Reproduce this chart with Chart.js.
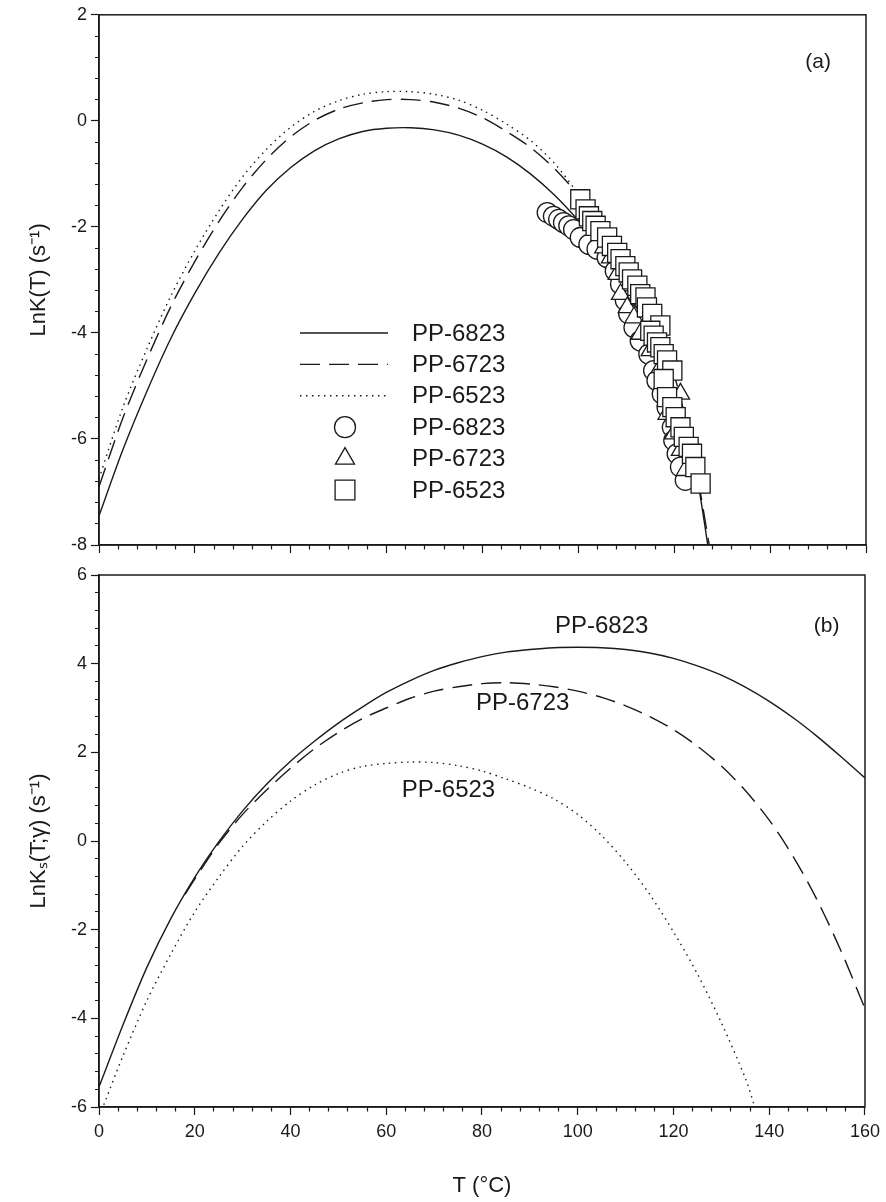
<!DOCTYPE html>
<html>
<head>
<meta charset="utf-8">
<script src="https://cdn.jsdelivr.net/npm/chart.js@4.4.0/dist/chart.umd.min.js"></script>
<style>
  html, body { margin: 0; padding: 0; background: #fff; }
  #wrap { position: relative; width: 886px; height: 1202px; }
  #chartA { position: absolute; left: 0; top: 0; }
  #chartB { position: absolute; left: 0; top: 560px; }
</style>
</head>
<body>
<div id="wrap">
  <canvas id="chartA" width="886" height="560"></canvas>
  <canvas id="chartB" width="886" height="642"></canvas>
</div>
<script>
// ---- data ----
const names = ['PP-6823', 'PP-6723', 'PP-6523'];

// (a) model curves, LnK(T)
const fitA6823T = [0, 5, 10, 15, 20, 25, 30, 35, 40, 45, 50, 55, 60, 65, 70, 75, 80, 85, 90, 95, 100, 105, 110, 115, 120, 123, 125, 127];
const fitA6823 = [-7.45, -6.2, -5.1, -4.1, -3.25, -2.5, -1.85, -1.3, -0.88, -0.56, -0.34, -0.2, -0.14, -0.13, -0.17, -0.27, -0.44, -0.68, -1.0, -1.4, -1.88, -2.42, -3.08, -3.92, -5.05, -6.0, -6.85, -8.0];
const fitA6723T = [0, 5, 10, 15, 20, 25, 30, 35, 40, 45, 50, 55, 60, 65, 70, 75, 80, 85, 90, 95, 100, 105, 110, 115, 120, 124, 127.3];
const fitA6723 = [-6.9, -5.6, -4.5, -3.5, -2.65, -1.9, -1.25, -0.72, -0.3, 0.01, 0.22, 0.34, 0.4, 0.4, 0.35, 0.24, 0.06, -0.2, -0.5, -0.9, -1.4, -2.0, -2.72, -3.6, -4.8, -6.3, -8.0];
const fitA6523T = [0, 5, 10, 15, 20, 25, 30, 35, 40, 45, 50, 55, 60, 65, 70, 75, 80, 85, 90, 95, 100, 102];
const fitA6523 = [-6.75, -5.4, -4.3, -3.3, -2.45, -1.7, -1.05, -0.53, -0.12, 0.18, 0.38, 0.5, 0.55, 0.55, 0.5, 0.39, 0.2, -0.06, -0.37, -0.8, -1.38, -1.65];

// (a) measured points
const obs6823T = [93.5, 94.8, 95.9, 96.9, 98.0, 99.0, 100.4, 102.2, 103.9, 106.0, 107.7, 108.8, 109.8, 110.5, 111.6, 112.9, 114.7, 115.7, 116.4, 117.5, 118.5, 119.6, 119.9, 120.6, 121.3, 122.3];
const obs6823 = [-1.73, -1.80, -1.86, -1.92, -1.98, -2.05, -2.20, -2.33, -2.42, -2.58, -2.83, -3.08, -3.39, -3.64, -3.90, -4.15, -4.40, -4.71, -4.90, -5.15, -5.40, -5.78, -6.03, -6.28, -6.53, -6.78];
const obs6723T = [105.3, 106.7, 108.1, 108.8, 110.2, 111.6, 112.9, 115.0, 117.1, 121.3, 118.5, 119.9, 121.3, 122.3];
const obs6723 = [-2.39, -2.58, -2.89, -3.27, -3.52, -3.71, -4.02, -4.33, -4.65, -5.15, -5.53, -5.90, -6.21, -6.59];
const obs6523T = [100.4, 101.5, 102.2, 102.9, 103.6, 104.6, 106.0, 107.0, 108.1, 108.8, 109.8, 110.5, 111.2, 112.3, 112.9, 114.0, 114.3, 115.4, 117.1, 115.0, 115.7, 116.4, 117.1, 117.8, 118.5, 119.6, 117.8, 118.5, 119.6, 120.3, 121.3, 122.0, 123.0, 123.7, 124.4, 125.5];
const obs6523 = [-1.48, -1.67, -1.80, -1.89, -1.98, -2.08, -2.20, -2.36, -2.49, -2.61, -2.74, -2.86, -2.99, -3.11, -3.27, -3.33, -3.52, -3.64, -3.86, -3.96, -4.05, -4.18, -4.27, -4.40, -4.52, -4.71, -4.87, -5.21, -5.40, -5.59, -5.78, -5.96, -6.15, -6.28, -6.53, -6.84];

// (b) LnKs(T;gamma)
const fitB6823T = [0, 5, 10, 15, 20, 25, 30, 35, 40, 45, 50, 55, 60, 65, 70, 75, 80, 85, 90, 95, 100, 105, 110, 115, 120, 125, 130, 135, 140, 145, 150, 155, 160];
const fitB6823 = [-5.55, -4.15, -2.85, -1.75, -0.82, -0.02, 0.68, 1.28, 1.8, 2.25, 2.66, 3.02, 3.35, 3.62, 3.85, 4.02, 4.16, 4.26, 4.32, 4.36, 4.37, 4.36, 4.32, 4.24, 4.12, 3.95, 3.74, 3.47, 3.15, 2.78, 2.36, 1.9, 1.42];
const fitB6723T = [18, 20, 25, 30, 35, 40, 45, 50, 55, 60, 65, 70, 75, 80, 85, 90, 95, 100, 105, 110, 115, 120, 125, 130, 135, 140, 145, 150, 155, 160];
const fitB6723 = [-1.2, -0.86, -0.06, 0.6, 1.15, 1.64, 2.08, 2.45, 2.76, 3.0, 3.22, 3.38, 3.48, 3.55, 3.57, 3.54, 3.48, 3.38, 3.24, 3.05, 2.81, 2.51, 2.14, 1.69, 1.14, 0.47, -0.35, -1.33, -2.48, -3.78];
const fitB6523T = [1, 5, 10, 15, 20, 25, 30, 35, 40, 45, 50, 55, 60, 65, 70, 75, 80, 85, 90, 95, 100, 105, 110, 115, 120, 125, 130, 135, 137];
const fitB6523 = [-5.95, -4.85, -3.6, -2.55, -1.6, -0.82, -0.12, 0.44, 0.9, 1.26, 1.52, 1.68, 1.75, 1.78, 1.77, 1.7, 1.58, 1.4, 1.2, 0.95, 0.6, 0.12, -0.48, -1.2, -2.05, -3.0, -4.1, -5.35, -6.0];

// tick labels
const xLabels = [0, 20, 40, 60, 80, 100, 120, 140, 160];
const yLabelsA = [-8, -6, -4, -2, 0, 2];
const yLabelsB = [-6, -4, -2, 0, 2, 4, 6];

// ---- helpers ----
const INK = '#1a1a1a';
const FONT = "'Liberation Sans', Arial, sans-serif";
const dashes = [[], [20, 9], [1.5, 4.5]];
const marks = ['circle', 'triangle', 'rect'];
const markSize = [10, 10.5, 13.5];

function pairs(xs, ys) {
  return xs.map((x, i) => ({x: x, y: ys[i]}));
}

function curve(label, xs, ys, k, order) {
  return {
    label: label, data: pairs(xs, ys), showLine: true,
    borderColor: INK, borderWidth: 1.4, borderDash: dashes[k],
    pointRadius: 0, tension: 0.3, order: order
  };
}

function dots(label, xs, ys, k, order) {
  return {
    label: label, data: pairs(xs, ys), showLine: false,
    pointStyle: marks[k], pointRadius: markSize[k],
    pointBackgroundColor: '#fff', pointBorderColor: INK, pointBorderWidth: 1.3,
    order: order
  };
}

function xAxis(withLabels) {
  return {
    type: 'linear', min: 0, max: 160,
    afterFit: s => { s.height = withLabels ? 95 : 15; },
    border: {display: true, color: INK, width: 1.5},
    grid: {
      drawOnChartArea: false, tickLength: 8, tickColor: INK, tickWidth: 1.2,
      tickBorderDash: c => (c.tick && xLabels.includes(c.tick.value)) ? [] : [4, 50]
    },
    ticks: {
      display: withLabels, stepSize: 4, autoSkip: false, maxRotation: 0, padding: 6,
      color: INK, font: {family: FONT, size: 18},
      callback: v => xLabels.includes(v) ? String(v) : ''
    },
    title: {
      display: withLabels, text: 'T (\u00B0C)', color: INK,
      font: {family: FONT, size: 22}, padding: {top: 0, bottom: 3}
    }
  };
}

function yAxis(min, max, labels, title) {
  return {
    type: 'linear', min: min, max: max,
    afterFit: s => { s.width = 99; },
    border: {display: true, color: INK, width: 1.5},
    grid: {
      drawOnChartArea: false, tickLength: 8, tickColor: INK, tickWidth: 1.2,
      tickBorderDash: c => (c.tick && labels.includes(c.tick.value)) ? [] : [0, 4, 4, 50]
    },
    ticks: {
      stepSize: 0.4, autoSkip: false, padding: 4, color: INK,
      font: {family: FONT, size: 18},
      callback: v => labels.includes(v) ? String(v) : ''
    },
    title: {
      display: true, text: title, color: INK,
      font: {family: FONT, size: 22}, padding: {top: 26, bottom: 0}
    }
  };
}

const framePlugin = {
  id: 'frame',
  afterDraw(chart) {
    const a = chart.chartArea, ctx = chart.ctx;
    ctx.save();
    ctx.strokeStyle = INK;
    ctx.lineWidth = 1.5;
    ctx.strokeRect(a.left, a.top, a.right - a.left, a.bottom - a.top);
    ctx.restore();
  }
};

// text placed at data coordinates
function textPlugin(items) {
  return {
    id: 'notes',
    afterDatasetsDraw(chart) {
      const ctx = chart.ctx, sx = chart.scales.x, sy = chart.scales.y;
      ctx.save();
      ctx.fillStyle = INK;
      ctx.textAlign = 'center';
      ctx.textBaseline = 'middle';
      items.forEach(it => {
        ctx.font = it.size + 'px ' + FONT;
        ctx.fillText(it.text, sx.getPixelForValue(it.x), sy.getPixelForValue(it.y));
      });
      ctx.restore();
    }
  };
}

// in-plot legend of panel (a)
const legendPlugin = {
  id: 'boxLegend',
  afterDraw(chart) {
    const ctx = chart.ctx;
    const rows = chart.data.datasets.slice().sort((p, q) => p.legendRow - q.legendRow);
    const top = 333, gap = 31.4, x0 = 300, x1 = 388, xm = 345, xt = 412;
    ctx.save();
    rows.forEach((ds, i) => {
      const y = top + i * gap;
      ctx.strokeStyle = INK;
      ctx.fillStyle = '#fff';
      if (ds.showLine) {
        ctx.lineWidth = ds.borderWidth;
        ctx.setLineDash(ds.borderDash);
        ctx.beginPath();
        ctx.moveTo(x0, y);
        ctx.lineTo(x1, y);
        ctx.stroke();
        ctx.setLineDash([]);
      } else {
        ctx.lineWidth = ds.pointBorderWidth;
        Chart.helpers.drawPoint(ctx, {
          pointStyle: ds.pointStyle, radius: ds.pointRadius + 0.5, rotation: 0,
          borderWidth: ds.pointBorderWidth
        }, xm, y);
      }
      ctx.fillStyle = INK;
      ctx.font = '24px ' + FONT;
      ctx.textAlign = 'left';
      ctx.textBaseline = 'middle';
      ctx.fillText(ds.label, xt, y + 1);
    });
    ctx.restore();
  }
};

Chart.defaults.font.family = FONT;
Chart.defaults.color = INK;

// ---- panel (a) ----
const dsA = [
  dots(names[2], obs6523T, obs6523, 2, 0),
  dots(names[1], obs6723T, obs6723, 1, 1),
  dots(names[0], obs6823T, obs6823, 0, 2),
  curve(names[0], fitA6823T, fitA6823, 0, 3),
  curve(names[1], fitA6723T, fitA6723, 1, 4),
  curve(names[2], fitA6523T, fitA6523, 2, 5)
];
[5, 4, 3, 0, 1, 2].forEach((r, i) => { dsA[i].legendRow = r; });

new Chart(document.getElementById('chartA'), {
  type: 'scatter',
  data: {datasets: dsA},
  options: {
    responsive: false, animation: false,
    layout: {padding: {top: 13, right: 20, left: 0, bottom: 0}},
    plugins: {legend: {display: false}, tooltip: {enabled: false}},
    scales: {
      x: xAxis(false),
      y: yAxis(-8, 2, yLabelsA, 'LnK(T) (s\u207B\u00B9)')
    }
  },
  plugins: [framePlugin, legendPlugin, textPlugin([{text: '(a)', x: 150, y: 1.1, size: 21}])]
});

// ---- panel (b) ----
new Chart(document.getElementById('chartB'), {
  type: 'scatter',
  data: {datasets: [
    curve(names[0], fitB6823T, fitB6823, 0, 0),
    curve(names[1], fitB6723T, fitB6723, 1, 1),
    curve(names[2], fitB6523T, fitB6523, 2, 2)
  ]},
  options: {
    responsive: false, animation: false,
    layout: {padding: {top: 15, right: 20, left: 0, bottom: 0}},
    plugins: {legend: {display: false}, tooltip: {enabled: false}},
    scales: {
      x: xAxis(true),
      y: yAxis(-6, 6, yLabelsB, 'LnK\u209B(T;\u03B3) (s\u207B\u00B9)')
    }
  },
  plugins: [framePlugin, textPlugin([
    {text: 'PP-6823', x: 105, y: 4.85, size: 24},
    {text: 'PP-6723', x: 88.5, y: 3.1, size: 24},
    {text: 'PP-6523', x: 73, y: 1.15, size: 24},
    {text: '(b)', x: 152, y: 4.85, size: 21}
  ])]
});
</script>
</body>
</html>
